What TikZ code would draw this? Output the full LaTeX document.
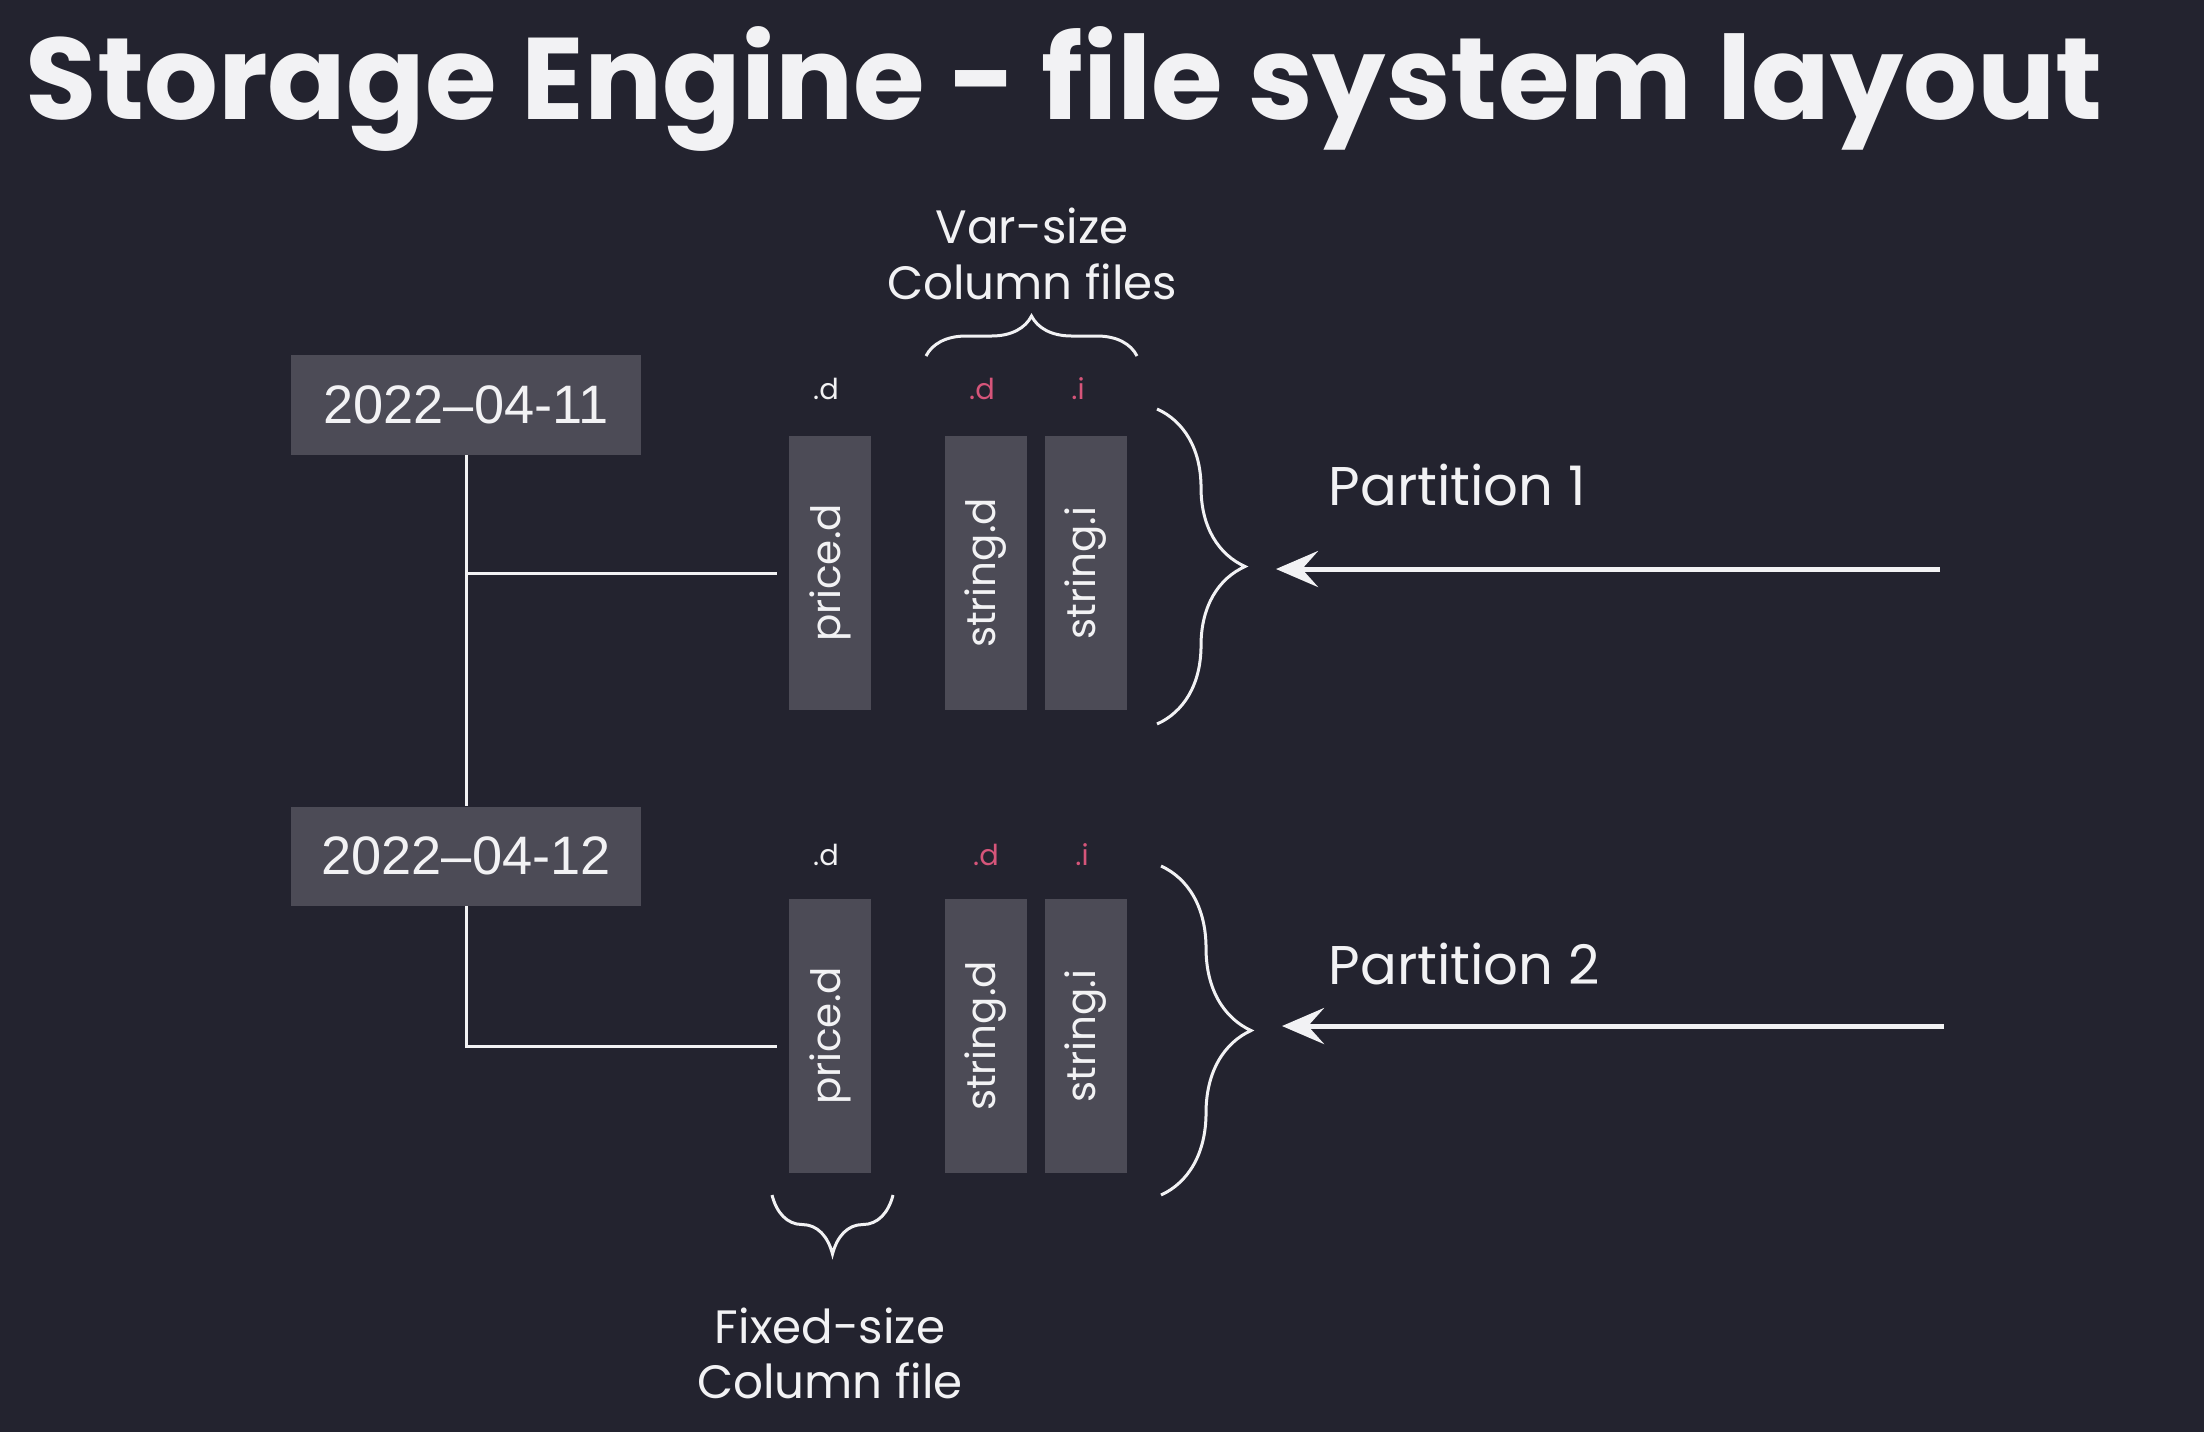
\documentclass[tikz,border=0pt]{standalone}
\usepackage{fontspec}
\setmainfont{Poppins}
\newfontfamily\datefont{Liberation Sans}
\usetikzlibrary{positioning,arrows.meta,decorations.pathreplacing}

\definecolor{bgcol}{HTML}{23232F}
\definecolor{boxcol}{HTML}{4C4B56}
\definecolor{extcol}{HTML}{D6557A}
\definecolor{inkcol}{HTML}{F2F2F4}

\begin{document}
\begin{tikzpicture}[x=0.01cm, y=-0.01cm,
	datebox/.style={fill=boxcol, text=inkcol, minimum width=3.5cm, minimum height=0.99cm, inner sep=0pt, font=\datefont\fontsize{15.4}{18}\selectfont},
	filebox/.style={fill=boxcol, text=inkcol, minimum width=0.81cm, minimum height=2.74cm, inner sep=0pt},
	filename/.style={text=inkcol, rotate=90, font=\fontsize{11.5}{13}\selectfont},
	ext/.style={text=inkcol, font=\fontsize{8.2}{9}\selectfont},
	redext/.style={ext, text=extcol},
	caption/.style={text=inkcol, align=center, font=\fontsize{13.3}{15.8}\selectfont},
	partlabel/.style={text=inkcol, anchor=west, inner sep=0pt, font=\fontsize{15.5}{19}\selectfont},
	treeline/.style={draw=inkcol, line width=0.3mm},
	curly/.style={draw=inkcol, line width=0.3mm, decorate, decoration={brace, amplitude=#1}},
	pointer/.style={draw=inkcol, line width=0.5mm, -{Stealth[length=4.2mm, width=3.6mm, inset=1.6mm]}}
]
	\fill[bgcol] (0,0) rectangle (2204,1432);
	\useasboundingbox (0,0) rectangle (2204,1432);

	\node [anchor=base west, text=inkcol, inner sep=0pt, font=\bfseries\fontsize{33}{40}\selectfont] (title) at (25,119) {Storage Engine - file system layout};

	% Partition directories
	\node [datebox] (d1) at (466,405) {2022\textendash04-11};
	\node [datebox] (d2) at (466,856) {2022\textendash04-12};

	% Column files of partition 1
	\node [filebox] (p1price) at (830,573) {};
	\node [filebox] (p1sd) at (986,573) {};
	\node [filebox] (p1si) at (1086,573) {};
	\node [filename] at (p1price) {price.d};
	\node [filename] at (p1sd) {string.d};
	\node [filename] at (p1si) {string.i};
	\node [ext] (e1a) at (826,389) {.d};
	\node [redext] (e1b) at (982,389) {.d};
	\node [redext] (e1c) at (1078,389) {.i};

	% Column files of partition 2
	\node [filebox] (p2price) at (830,1036) {};
	\node [filebox] (p2sd) at (986,1036) {};
	\node [filebox] (p2si) at (1086,1036) {};
	\node [filename] at (p2price) {price.d};
	\node [filename] at (p2sd) {string.d};
	\node [filename] at (p2si) {string.i};
	\node [ext] (e2a) at (826,855) {.d};
	\node [redext] (e2b) at (986,855) {.d};
	\node [redext] (e2c) at (1082,855) {.i};

	% Tree from directories to files
	\draw [treeline] (d1.south) -- (d2.north);
	\draw [treeline] (d1.south) |- ([xshift=-0.12cm]p1price.west);
	\draw [treeline] (d2.south) |- ([xshift=-0.12cm,yshift=-0.1cm]p2price.west);

	% Braces
	\coordinate (vb1) at (926,356);
	\coordinate (vb2) at (1137,356);
	\draw [curly=4mm] (vb1) -- (vb2);
	\node [caption, anchor=south] (varcap) at (1032,312) {Var-size\\Column files};

	\coordinate (fb1) at (893,1195);
	\coordinate (fb2) at (772,1195);
	\draw [curly=5.9mm] (fb1) -- (fb2);
	\node [caption, anchor=north] (fixcap) at (830,1295) {Fixed-size\\Column file};

	\coordinate (pb1t) at (1157,409);
	\coordinate (pb1b) at (1157,724);
	\draw [curly=8.8mm] (pb1t) -- (pb1b);
	\coordinate (pb2t) at (1161,866);
	\coordinate (pb2b) at (1161,1195);
	\draw [curly=9mm] (pb2t) -- (pb2b);

	% Partition pointers
	\coordinate (a1s) at (1940,569);
	\coordinate (a1e) at (1276,569);
	\draw [pointer] (a1s) -- (a1e);
	\node [partlabel] (part1) at (1328,485) {Partition 1};

	\coordinate (a2s) at (1944,1026);
	\coordinate (a2e) at (1282,1026);
	\draw [pointer] (a2s) -- (a2e);
	\node [partlabel] (part2) at (1328,964) {Partition 2};
\end{tikzpicture}
\end{document}
